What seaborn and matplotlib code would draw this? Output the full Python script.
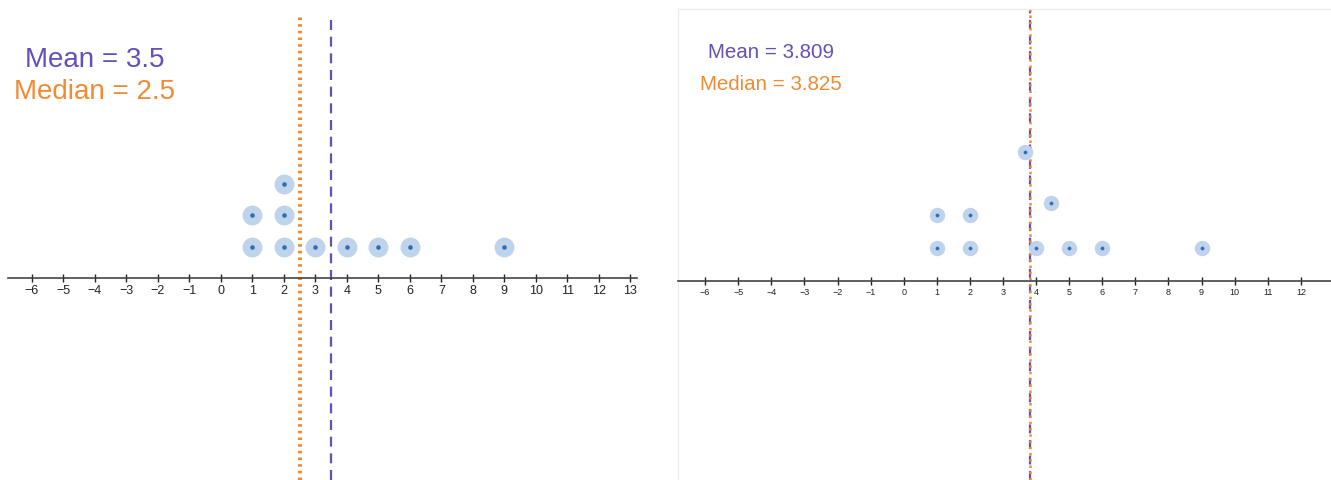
import numpy as np
import matplotlib
matplotlib.use("Agg")
import matplotlib.pyplot as plt
import seaborn as sns

sns.set_style("white")
plt.rcParams['font.family'] = ['Liberation Sans', 'DejaVu Sans']

# dot plot data (value, stack height)
left_x = [1, 1, 2, 2, 2, 3, 4, 5, 6, 9]
left_y = [1, 2, 1, 2, 3, 1, 1, 1, 1, 1]
right_x = [1, 1, 2, 2, 3.65, 4, 4.44, 5, 6, 9]
right_y = [1, 2, 1, 2, 3.9, 1, 2.35, 1, 1, 1]
left_ticks = list(range(-6, 14))
right_ticks = list(range(-6, 13))

purple = "#6650b8"
orange = "#f28a33"
halo = "#bfd3ec"
dot = "#2f6cb8"

W, H = 1331, 481
fig = plt.figure(figsize=(W / 100, H / 100), dpi=100)


def number_line(ax, xs, ys, ticks, outer, inner, fs):
    sns.scatterplot(x=xs, y=ys, ax=ax, s=outer, color=halo, edgecolor=None, zorder=3)
    sns.scatterplot(x=xs, y=ys, ax=ax, s=inner, color=dot, edgecolor=None, zorder=4)
    ax.spines['bottom'].set_position(('data', 0))
    ax.spines['bottom'].set_color("#444444")
    ax.spines['bottom'].set_linewidth(1.2)
    ax.set_xticks(ticks)
    ax.set_yticks([])
    ax.tick_params(axis='x', direction='inout', length=6, width=1, pad=1,
                   labelsize=fs, colors="#222222", bottom=True)
    ax.set_xlabel("")
    ax.set_ylabel("")


# left panel
ax1 = fig.add_axes([0, 0, 660 / W, 1])
ax1.set_xlim(-7.01, 13.94)
ax1.set_ylim(-6.41, 8.86)
number_line(ax1, left_x, left_y, left_ticks, 175, 9, 9)
for s in ['top', 'left', 'right']:
    ax1.spines[s].set_visible(False)
ax1.spines['bottom'].set_bounds(-6.76, 13.21)
m1, md1 = np.mean(left_x), np.median(left_x)
ax1.axvline(md1, ymax=(H - 16) / H, color=orange, lw=3, linestyle=(0, (0.6, 1.0)), zorder=2)
ax1.axvline(m1, ymax=(H - 16) / H, color=purple, lw=1.6, linestyle=(0, (4.5, 3)), zorder=2)
fig.text(95 / W, 1 - 60 / H, f"Mean = {m1:g}", color=purple, fontsize=20, ha='center', va='center')
fig.text(95 / W, 1 - 92 / H, f"Median = {md1:g}", color=orange, fontsize=20, ha='center', va='center')

# right panel
ax2 = fig.add_axes([678 / W, 0, (W - 678) / W, (H - 10) / H])
ax2.set_xlim(-6.82, 12.91)
ax2.set_ylim(-6.01, 8.22)
number_line(ax2, right_x, right_y, right_ticks, 105, 6, 6.5)
ax2.spines['right'].set_visible(False)
for s in ['top', 'left']:
    ax2.spines[s].set_color("#ececec")
    ax2.spines[s].set_linewidth(1)
m2, md2 = np.mean(right_x), np.median(right_x)
ax2.axvline(m2, color=purple, lw=1.6, linestyle=(0, (4, 3)), zorder=2)
ax2.axvline(md2, color=orange, lw=1.8, linestyle=(0, (1, 1.5)), zorder=2)
fig.text(771 / W, 1 - 52 / H, f"Mean = {m2:.3f}", color=purple, fontsize=14.8, ha='center', va='center')
fig.text(771 / W, 1 - 85 / H, f"Median = {md2:.3f}", color=orange, fontsize=14.8, ha='center', va='center')

fig.savefig("out.png", dpi=100)
